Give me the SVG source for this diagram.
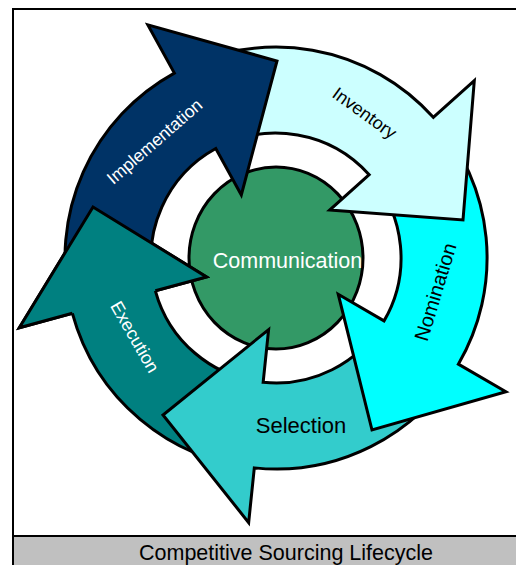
<svg xmlns="http://www.w3.org/2000/svg" width="516" height="565" viewBox="0 0 516 565">
<style>
.arrow{stroke:#000;stroke-width:3;stroke-linejoin:miter;stroke-miterlimit:10}
.lbl{font-family:"Liberation Sans",Arial,sans-serif;text-anchor:middle}
.w{fill:#fff}
.b{fill:#000}
</style>
<rect id="frame" x="13" y="9" width="520" height="580" fill="#fff" stroke="#000" stroke-width="2"/>
<g id="title">
<rect x="13" y="536" width="520" height="50" fill="#C0C0C0" stroke="#000" stroke-width="2"/>
<text class="lbl b" x="286" y="560" font-size="21.5">Competitive Sourcing Lifecycle</text>
</g>
<g id="communication">
<ellipse cx="276" cy="258" rx="87" ry="91" fill="#339966" stroke="#000" stroke-width="3"/>
</g>
<g id="connectors">
<g id="execution">
<path class="arrow" fill="#008080" d="M 256.2,467.9 A 211 211 0 0 1 72.38,313.32 L 19.30,327.74 L 93,207 L 206.52,276.88 L 155.37,290.77 A 125 125 0 0 0 263.15,382.34 Z"/>
</g>
<g id="selection">
<path class="arrow" fill="#33CCCC" d="M 457.5,366 A 211 211 0 0 1 254.31,467.88 L 248.66,522.59 L 163,415 L 268.60,329.62 L 263.15,382.34 A 125 125 0 0 0 383.4,322 Z"/>
</g>
<g id="nomination">
<path class="arrow" fill="#00FFFF" d="M 434.5,118.5 A 211 211 0 0 1 458.36,364.14 L 505.90,391.80 L 372,430 L 338.23,294.22 L 384.03,320.88 A 125 125 0 0 0 370,175.5 Z"/>
</g>
<g id="inventory">
<path class="arrow" fill="#CCFFFF" d="M 176,72.3 A 211 211 0 0 1 433.30,117.36 L 474.30,80.70 L 463,220 L 329.67,210.01 L 369.19,174.68 A 125 125 0 0 0 216.8,148 Z"/>
</g>
<g id="implementation">
<path class="arrow" fill="#003366" d="M 70.58,306.18 A 211 211 0 0 1 174.35,73.10 L 147.85,24.90 L 277,61 L 241.31,194.91 L 215.78,148.46 A 125 125 0 0 0 154.30,286.54 Z"/>
</g>
<g id="execution-head">
<polygon points="19.30,327.74 93,207 206.52,276.88" fill="#008080"/>
<polyline class="arrow" fill="none" points="155.37,290.77 206.52,276.88 93,207 19.30,327.74 72.38,313.32"/>
</g>
</g>
<g id="labels">
<text class="lbl w" font-size="17.5" transform="translate(158.5,146) rotate(-41)">Implementation</text>
<text class="lbl b" font-size="18" transform="translate(361,118) rotate(36)">Inventory</text>
<text class="lbl b" font-size="20" transform="translate(442,294) rotate(-73)">Nomination</text>
<text class="lbl b" font-size="22" x="301" y="433">Selection</text>
<text class="lbl w" font-size="18" transform="translate(129.4,340) rotate(60)">Execution</text>
<text class="lbl w" font-size="21.5" x="287.5" y="268">Communication</text>
</g>
</svg>
